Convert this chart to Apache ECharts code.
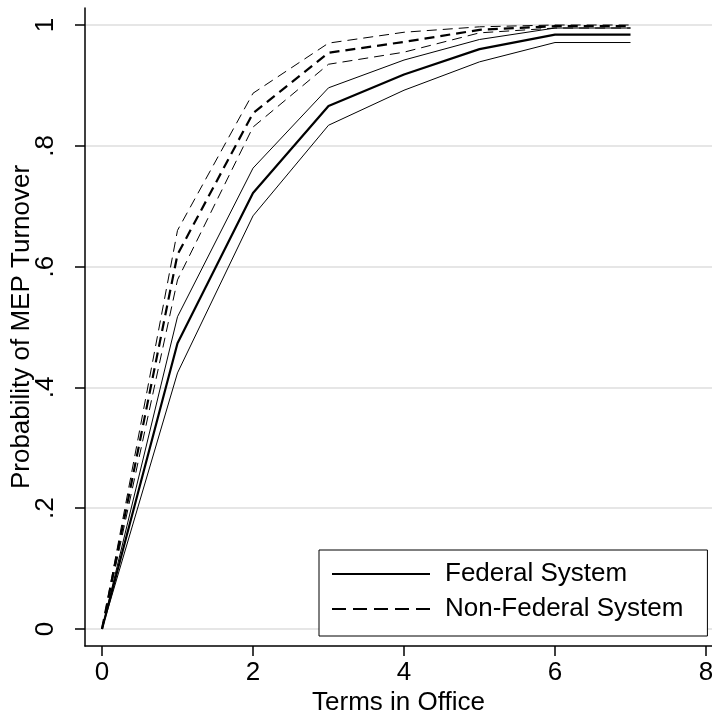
<!DOCTYPE html>
<html>
<head>
<meta charset="utf-8">
<script src="https://cdn.jsdelivr.net/npm/echarts@6/dist/echarts.min.js"></script>
<style>html,body{margin:0;padding:0;background:#fff}#c{width:712px;height:719px}</style>
</head>
<body>
<div id="c"></div>
<script>
// ---- data ----
var terms = [0, 1, 2, 3, 4, 5, 6, 7];
var fedMean  = [0, 0.473, 0.722, 0.866, 0.918, 0.960, 0.984, 0.984];
var fedLower = [0, 0.424, 0.684, 0.834, 0.892, 0.939, 0.971, 0.971];
var fedUpper = [0, 0.517, 0.763, 0.896, 0.942, 0.976, 0.995, 0.995];
var nonMean  = [0, 0.620, 0.854, 0.954, 0.972, 0.992, 0.998, 0.998];
var nonLower = [0, 0.578, 0.831, 0.935, 0.955, 0.987, 0.995, 0.995];
var nonUpper = [0, 0.660, 0.887, 0.970, 0.988, 0.997, 1.000, 1.000];
var xTicks = [0, 2, 4, 6, 8];
var yTicks = [0, 0.2, 0.4, 0.6, 0.8, 1];

function pairs(ys){ return terms.map(function(t,i){ return [t, ys[i]]; }); }
var FONT = 'Liberation Sans, Arial, sans-serif';

// pixel layout of the plot region
var X0 = 102, X8 = 706, Y0 = 629, Y1 = 25;      // data 0..8 / 0..1 positions
var AX = 85, AY = 646, TOP = 8, RIGHT = 712;     // frame lines
var px = (X8 - X0) / (xTicks[xTicks.length-1] - xTicks[0]);
var py = (Y0 - Y1) / (yTicks[yTicks.length-1] - yTicks[0]);

function line(name, ys, width, dashed){
  return {
    name: name, type: 'line', xAxisIndex: 0, yAxisIndex: 0,
    data: pairs(ys), symbol: 'none', silent: true,
    lineStyle: { color: '#000', width: width, type: dashed ? [10, 6] : 'solid' },
    itemStyle: { color: '#000' }
  };
}

var chart = echarts.init(document.getElementById('c'), null, {renderer: 'canvas'});
chart.setOption({
  animation: false,
  backgroundColor: '#fff',
  textStyle: { fontFamily: FONT },
  grid: [
    { left: AX, right: 712 - RIGHT, top: TOP, bottom: 719 - AY, containLabel: false, outerBoundsMode: 'none' },
    { left: AX, right: 0, top: Y1, bottom: 719 - Y0, containLabel: false, outerBoundsMode: 'none' }
  ],
  xAxis: [
    { gridIndex: 0, type: 'value',
      min: xTicks[0] - (X0 - AX) / px, max: xTicks[xTicks.length-1] + (RIGHT - X8) / px,
      axisLine: { show: true, onZero: false, lineStyle: { color: '#000', width: 1.5 } },
      axisTick: { show: true, inside: false, length: 10, customValues: xTicks, lineStyle: { color: '#000', width: 1.5 } },
      axisLabel: { fontSize: 26, color: '#000', margin: 14, fontFamily: FONT, customValues: xTicks,
        showMinLabel: true, showMaxLabel: true, hideOverlap: false },
      splitLine: { show: false },
      name: 'Terms in Office', nameLocation: 'middle', nameGap: 44, nameMoveOverlap: false,
      nameTextStyle: { fontSize: 26, color: '#000', fontFamily: FONT } },
    { gridIndex: 1, type: 'value', min: 0, max: 1, show: false }
  ],
  yAxis: [
    { gridIndex: 0, type: 'value',
      min: yTicks[0] - (AY - Y0) / py, max: yTicks[yTicks.length-1] + (Y1 - TOP) / py,
      axisLine: { show: true, onZero: false, lineStyle: { color: '#000', width: 1.5 } },
      axisTick: { show: true, inside: false, length: 10, customValues: yTicks, lineStyle: { color: '#000', width: 1.5 } },
      axisLabel: { fontSize: 26, color: '#000', margin: 26, rotate: 90, fontFamily: FONT, customValues: yTicks,
        showMinLabel: true, showMaxLabel: true, hideOverlap: false,
        formatter: function(v){ if (Math.abs(v) < 1e-9) return '0'; if (Math.abs(v - 1) < 1e-9) return '1'; return String(+v.toFixed(1)).replace(/^0\./, '.'); } },
      splitLine: { show: false },
      name: 'Probability of MEP Turnover', nameLocation: 'middle', nameGap: 50, nameRotate: 90, nameMoveOverlap: false,
      nameTextStyle: { fontSize: 26, color: '#000', fontFamily: FONT } },
    { gridIndex: 1, type: 'value', min: yTicks[0], max: yTicks[yTicks.length-1], interval: 0.2,
      axisLine: { show: false }, axisTick: { show: false }, axisLabel: { show: false },
      splitLine: { show: true, lineStyle: { color: '#e6e6e6', width: 2 } } }
  ],
  legend: {
    data: [
      { name: 'Federal System' },
      { name: 'Non-Federal System', lineStyle: { type: [14, 7] } }
    ],
    orient: 'vertical', left: 319, top: 550,
    itemWidth: 98, itemHeight: 20, itemGap: 9,
    padding: [11, 24, 14, 12],
    borderColor: '#000', borderWidth: 1, backgroundColor: '#fff',
    itemStyle: { opacity: 0 },
    lineStyle: { width: 2 },
    textStyle: { fontSize: 26, color: '#000', fontFamily: FONT, padding: [0, 0, 0, 10] },
    selectedMode: false
  },
  series: [
    line('fedLower', fedLower, 1, false),
    line('fedUpper', fedUpper, 1, false),
    line('Federal System', fedMean, 2.2, false),
    line('nonLower', nonLower, 1, true),
    line('nonUpper', nonUpper, 1, true),
    line('Non-Federal System', nonMean, 2.2, true)
  ]
});
</script>
</body>
</html>
